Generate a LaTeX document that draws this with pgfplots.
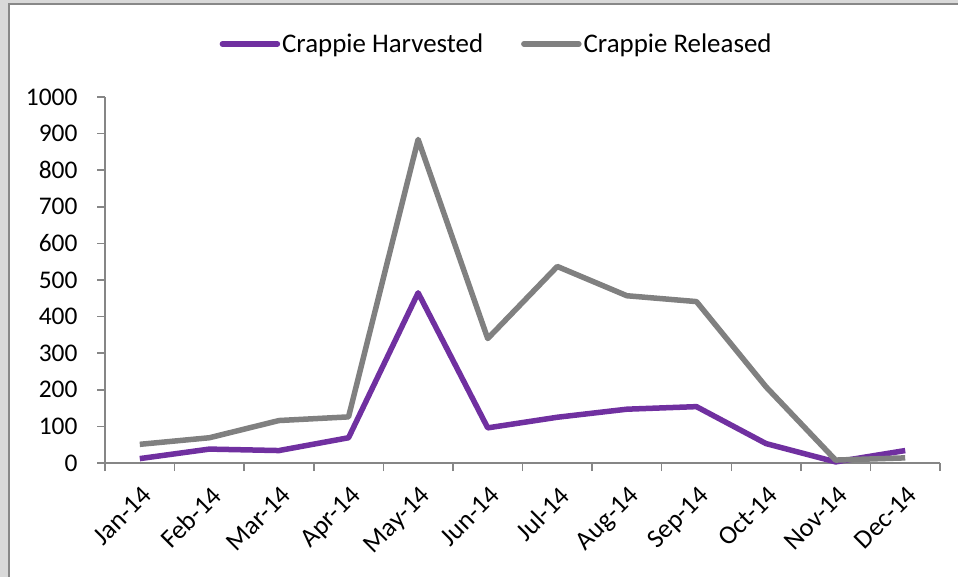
\documentclass[border=0pt]{standalone}
\usepackage{pgfplots}
\pgfplotsset{compat=1.18}
\usepackage{fontspec}
\setmainfont{Carlito}
\definecolor{harv}{HTML}{7030A0}
\definecolor{rel}{HTML}{808080}
\definecolor{axgray}{HTML}{868686}
\definecolor{bggray}{HTML}{D9D9D9}
\definecolor{framegray}{HTML}{888888}
\begin{document}
\begin{tikzpicture}
\useasboundingbox (0,0) rectangle (958bp,577bp);
\fill[bggray] (0,0) rectangle (958bp,577bp);
\fill[white] (9bp,0) rectangle (958bp,573bp);
\draw[framegray, line width=2bp] (9bp,0) -- (9bp,573bp) -- (958bp,573bp);
\begin{axis}[
  at={(105bp,114bp)}, anchor=south west,
  scale only axis, width=835bp, height=366bp,
  xmin=-0.5, xmax=11.5, ymin=0, ymax=1000,
  clip=false,
  axis lines*=left,
  axis line style={axgray, line width=1.5bp},
  tick align=outside,
  xtick={0,...,11},
  xticklabels={Jan-14,Feb-14,Mar-14,Apr-14,May-14,Jun-14,Jul-14,Aug-14,Sep-14,Oct-14,Nov-14,Dec-14},
  minor xtick={-0.5,0.5,...,11.5},
  ytick={0,100,...,1000},
  major tick length=8bp, minor tick length=8bp,
  major x tick style={draw=none},
  tick style={axgray, line width=1.5bp},
  /pgf/number format/assume math mode=true,
  /pgf/number format/1000 sep={},
  yticklabel style={font=\fontsize{25.5}{31}\selectfont, black, xshift=-16bp},
  xticklabel style={font=\fontsize{26.5}{31}\selectfont, black, xshift=1bp, yshift=-9bp, rotate=45, anchor=north east},
  legend columns=2,
  legend style={draw=none, fill=none, font=\fontsize{27}{32}\selectfont,
    at={(0.469,1.145)}, anchor=center,
    nodes={inner sep=2bp},
    /tikz/every odd column/.append style={column sep=0bp},
    /tikz/every even column/.append style={column sep=36bp}},
  legend image code/.code={\draw[#1, line cap=round] (0bp,0bp) -- (55bp,0bp);},
]
\addplot[harv, line width=5.5bp, line join=round] coordinates {
(0,12) (1,38) (2,34) (3,69) (4,465) (5,96) (6,125) (7,147) (8,154) (9,53) (10,3) (11,34)};
\addlegendentry{Crappie Harvested}
\addplot[rel, line width=5.5bp, line join=round] coordinates {
(0,51) (1,69) (2,116) (3,126) (4,884) (5,340) (6,537) (7,457) (8,441) (9,208) (10,8) (11,14)};
\addlegendentry{Crappie Released}
\end{axis}
\end{tikzpicture}
\end{document}
